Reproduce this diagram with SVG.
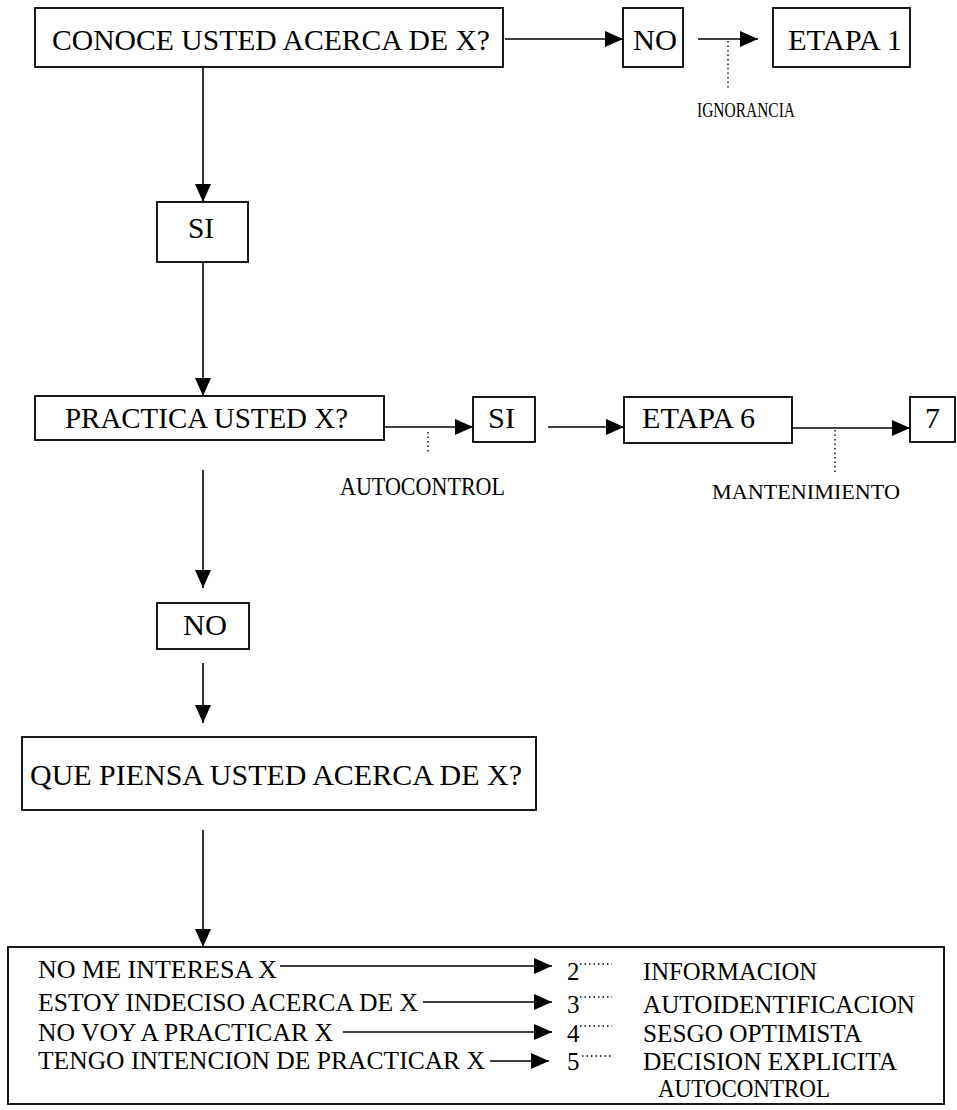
<svg xmlns="http://www.w3.org/2000/svg" width="957" height="1110" viewBox="0 0 957 1110">
<style>
.box{fill:none;stroke:#000;stroke-width:1.8}
.t{font-family:'Liberation Serif','Times New Roman',serif;fill:#000}
.big{font-size:30px}
.mid{font-size:25px}
.conn{stroke:#000;stroke-width:1.6;fill:none}
.arr{marker-end:url(#ah)}
.dot{stroke:#000;stroke-width:1.4;fill:none;stroke-dasharray:1.5 3}
</style>
<defs>
<marker id="ah" markerUnits="userSpaceOnUse" markerWidth="18" markerHeight="16" refX="18" refY="8" orient="auto">
<path d="M0,0 L18,8 L0,16 z" fill="#000"/>
</marker>
</defs>
<rect width="957" height="1110" fill="#fff"/>
<g id="connectors">
<path class="conn arr" d="M505,39 H623"/>
<path class="conn arr" d="M698,39 H758"/>
<path class="dot" d="M728,41 V88"/>
<path class="conn arr" d="M203,67 V202"/>
<path class="conn arr" d="M203,262 V396"/>
<path class="conn arr" d="M384,427 H473"/>
<path class="dot" d="M428,432 V453"/>
<path class="conn arr" d="M548,427 H624"/>
<path class="conn arr" d="M792,428 H910"/>
<path class="dot" d="M835,430 V472"/>
<path class="conn arr" d="M203,470 V588"/>
<path class="conn arr" d="M203,663 V723"/>
<path class="conn arr" d="M203,830 V947"/>
<path class="conn arr" d="M280,966 H552"/>
<path class="conn arr" d="M423,1002 H552"/>
<path class="conn arr" d="M343,1032 H552"/>
<path class="conn arr" d="M490,1061 H549"/>
<path class="dot" d="M580,964 H612"/>
<path class="dot" d="M580,997 H612"/>
<path class="dot" d="M580,1026 H612"/>
<path class="dot" d="M582,1056 H612"/>
</g>
<g id="n_conoce">
<rect class="box" x="35" y="8" width="468" height="59"/>
<text class="t big" x="52" y="50" textLength="438" lengthAdjust="spacingAndGlyphs">CONOCE USTED ACERCA DE X?</text>
</g>
<g id="n_no1">
<rect class="box" x="623" y="8" width="60" height="59"/>
<text class="t big" x="633" y="50" textLength="44" lengthAdjust="spacingAndGlyphs">NO</text>
</g>
<g id="n_etapa1">
<rect class="box" x="773" y="8" width="137" height="59"/>
<text class="t big" x="788" y="50" textLength="114" lengthAdjust="spacingAndGlyphs">ETAPA 1</text>
</g>
<g id="l_ignorancia">
<text class="t" font-size="22" x="697" y="117" textLength="98" lengthAdjust="spacingAndGlyphs">IGNORANCIA</text>
</g>
<g id="n_si1">
<rect class="box" x="157" y="202" width="91" height="60"/>
<text class="t big" x="188" y="238" textLength="26" lengthAdjust="spacingAndGlyphs">SI</text>
</g>
<g id="n_practica">
<rect class="box" x="35" y="396" width="349" height="44"/>
<text class="t big" x="65" y="428" textLength="283" lengthAdjust="spacingAndGlyphs">PRACTICA USTED X?</text>
</g>
<g id="n_si2">
<rect class="box" x="473" y="397" width="62" height="45"/>
<text class="t big" x="488" y="428" textLength="27" lengthAdjust="spacingAndGlyphs">SI</text>
</g>
<g id="n_etapa6">
<rect class="box" x="624" y="397" width="168" height="46"/>
<text class="t big" x="642" y="428" textLength="113" lengthAdjust="spacingAndGlyphs">ETAPA 6</text>
</g>
<g id="n_7">
<rect class="box" x="910" y="397" width="45" height="45"/>
<text class="t big" x="925" y="428">7</text>
</g>
<g id="l_autocontrol">
<text class="t" font-size="25" x="340" y="495" textLength="165" lengthAdjust="spacingAndGlyphs">AUTOCONTROL</text>
</g>
<g id="l_mantenimiento">
<text class="t" font-size="21" x="712" y="499" textLength="188" lengthAdjust="spacingAndGlyphs">MANTENIMIENTO</text>
</g>
<g id="n_no2">
<rect class="box" x="157" y="603" width="92" height="46"/>
<text class="t big" x="183" y="635" textLength="44" lengthAdjust="spacingAndGlyphs">NO</text>
</g>
<g id="n_que">
<rect class="box" x="22" y="737" width="514" height="73"/>
<text class="t big" x="30" y="785" textLength="492" lengthAdjust="spacingAndGlyphs">QUE PIENSA USTED ACERCA DE X?</text>
</g>
<g id="n_opciones">
<rect class="box" x="8" y="947" width="936" height="157"/>
<text class="t mid" x="38" y="978" textLength="239" lengthAdjust="spacingAndGlyphs">NO ME INTERESA X</text>
<text class="t mid" x="38" y="1011" textLength="380" lengthAdjust="spacingAndGlyphs">ESTOY INDECISO ACERCA DE X</text>
<text class="t mid" x="38" y="1041" textLength="295" lengthAdjust="spacingAndGlyphs">NO VOY A PRACTICAR X</text>
<text class="t mid" x="38" y="1069" textLength="447" lengthAdjust="spacingAndGlyphs">TENGO INTENCION DE PRACTICAR X</text>
<text class="t mid" x="567" y="980">2</text>
<text class="t mid" x="567" y="1013">3</text>
<text class="t mid" x="567" y="1042">4</text>
<text class="t mid" x="567" y="1070">5</text>
<text class="t mid" x="643" y="980" textLength="174" lengthAdjust="spacingAndGlyphs">INFORMACION</text>
<text class="t mid" x="643" y="1013" textLength="272" lengthAdjust="spacingAndGlyphs">AUTOIDENTIFICACION</text>
<text class="t mid" x="643" y="1042" textLength="219" lengthAdjust="spacingAndGlyphs">SESGO OPTIMISTA</text>
<text class="t mid" x="643" y="1070" textLength="254" lengthAdjust="spacingAndGlyphs">DECISION EXPLICITA</text>
<text class="t mid" x="658" y="1097" textLength="172" lengthAdjust="spacingAndGlyphs">AUTOCONTROL</text>
</g>
</svg>
